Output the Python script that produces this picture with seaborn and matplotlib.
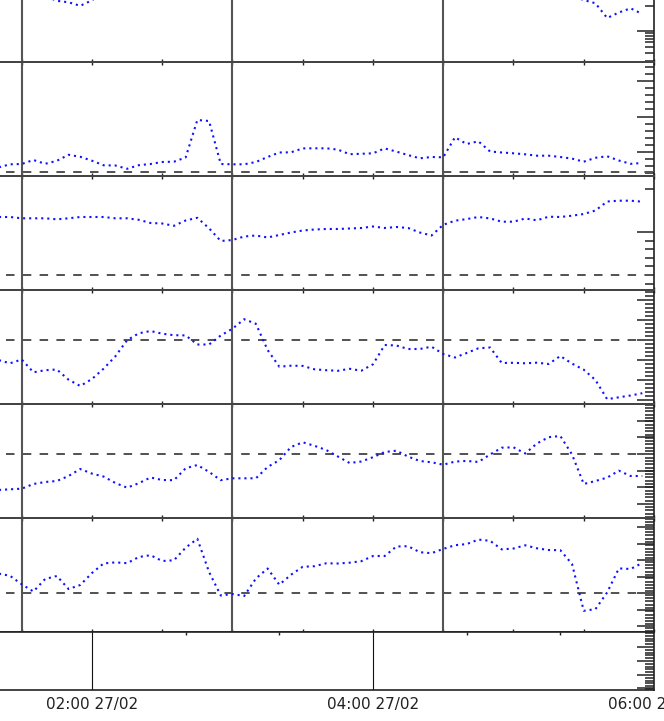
import numpy as np
import matplotlib
matplotlib.use("Agg")
import matplotlib.pyplot as plt
import seaborn as sns
from matplotlib.ticker import FixedLocator, NullFormatter

sns.set_theme(style="white")
plt.rcParams['font.family'] = ['DejaVu Sans']

# minutes after 00:00 on 27/02, one sample every 5 minutes (01:20 .. 05:55)
minutes = np.arange(80, 356, 5)

# each trace is measured relative to its dashed reference level
trace_1 = [82, 82, 80, 72, 66, 61.2, 59.7, 56.2, 61.7, 70,
           78, 84, 88, 90, 87, 91, 95, 92, 89, 94,
           97, 93, 90, 88, 92, 96, 99, 95, 91, 89,
           93, 90, 86, 84, 88, 85, 82, 80, 84, 86,
           83, 80, 78, 79, 76, 75, 73, 71, 69, 66,
           62, 58.7, 44, 49.5, 53.7, 48]
trace_2 = [4.5, 7.7, 8, 12, 8.2, 11.2, 17.2, 15.2, 11.3, 6.7,
           6.5, 3.2, 6.8, 8, 10, 10.3, 14.5, 52, 51, 8,
           7.7, 7.7, 10, 15, 19.5, 19.7, 23.6, 23.7, 23.7, 22.4,
           17.8, 18.2, 18.7, 23.6, 20.4, 16.9, 13.7, 15, 14.7, 34.7,
           28, 30.7, 20.5, 19.5, 18.7, 17.7, 16.3, 16.3, 15, 13.4,
           10.3, 14.2, 15.7, 11.5, 8.2, 9]
trace_3 = [58, 58, 56.7, 56.7, 56.7, 55.7, 56.7, 58, 58, 58,
           56.7, 56.7, 55.2, 52, 51.5, 49.2, 54.5, 57.2, 46.7, 34,
           35, 38.5, 39.5, 37.5, 40, 42.5, 44.5, 45.5, 46, 46,
           46.5, 47, 48.5, 47, 48, 47, 42.5, 39.5, 50.2, 54.3,
           55.9, 58, 56.6, 53.3, 53.3, 56.5, 54.7, 58.3, 58, 59.3,
           61, 64.5, 73.5, 74.3, 74.3, 73.3]
trace_4 = [-20, -23.3, -19.5, -32.3, -30.2, -29.5, -39.7, -46, -39, -28.6,
           -16.3, -0.2, 6.7, 9, 6.3, 4.8, 4.6, -4.5, -4.5, 4.5,
           11.3, 20.8, 16.2, -10, -26.7, -25.7, -25.9, -29.3, -30.2, -30.8,
           -28.8, -30.7, -24.3, -5, -5.5, -9, -9, -6.7, -14, -17.5,
           -13, -8.3, -7.5, -23, -22.8, -23.3, -22.7, -24, -16, -23.6,
           -29.7, -40, -59.2, -57.3, -55.5, -53.2]
trace_5 = [-36, -35.3, -34.7, -30, -28, -27, -22, -15, -19.6, -22.6,
           -29, -33.7, -29.2, -23.5, -26, -26.2, -14.3, -11, -17.9, -26.2,
           -24.3, -24.3, -24.3, -13, -6.2, 7, 11.7, 8.2, 4, -2.5,
           -9, -7.5, -3.2, 2, 3.3, -2.6, -7, -8.3, -10.7, -7.6,
           -6.9, -8, -0.5, 6.3, 6.7, 0.5, 10.5, 16.8, 18, -0.5,
           -30, -27, -23.6, -16.7, -22, -22]
trace_6 = [19.5, 17.2, 8.7, 1.5, 14, 17, 4, 8, 20, 29.6,
           30.6, 29.8, 36, 37.8, 32, 32.7, 45.3, 54.2, 21, -2.5,
           -1, -3, 14.5, 24.5, 8.3, 18.3, 26.2, 26.8, 29.7, 29.5,
           30.3, 31.8, 37, 37, 46.5, 46.8, 40.8, 39.8, 44.1, 47.8,
           48.9, 53.4, 52.2, 43.6, 44.5, 47.7, 44.7, 43, 42.8, 29,
           -17.8, -16.1, 0.6, 24.6, 24, 30]

traces = [trace_1, trace_2, trace_3, trace_4, trace_5, trace_6]
show_ref = [False, True, True, True, True, True]

W, H = 664, 721
fig = plt.figure(figsize=(W / 100, H / 100), dpi=100)

# panel layout in pixels (top, bottom), the first one runs off the top
panel_px = [(-52, 62), (62, 176), (176, 290), (290, 404), (404, 518), (518, 632)]
ylims = [(0, 114), (-4, 110), (-15, 99), (-64, 50), (-64, 50), (-39, 75)]
x_right = 654
t0, t1 = 80.73, 360

# right-hand y ticks (major, minor) for each panel
yticks = [
    ([31], [56, 29, 26, 23, 20, 15, 9, 1]),
    (list(20 + 35.5 * np.arange(0, 3)),
     [v for v in 20 + 7.1 * np.arange(-3, 13) if abs((v - 20) / 7.1 % 5) > 0.1]),
    ([43], [86] + list(43 - 8.6 * np.arange(1, 7))),
    (list(np.arange(-60, 50, 20)), list(np.arange(-64, 50, 4))),
    (list(16.6 * np.arange(-3, 3)), list(np.arange(-63, 50, 3.3))),
    (list(16.5 * np.arange(-2, 5)), list(np.arange(-38, 75, 3.3))),
]

grid_col = '#555555'
for i, (top, bot) in enumerate(panel_px):
    ax = fig.add_axes([0, (H - bot) / H, x_right / W, (bot - top) / H])
    ax.set_facecolor('white')
    ax.set_xlim(t0, t1)
    ax.set_ylim(*ylims[i])
    for t in (90, 180, 270):
        ax.axvline(t, color=grid_col, lw=1.5, zorder=1)
    if show_ref[i]:
        ax.axhline(0, color=grid_col, lw=1.44, zorder=1,
                   linestyle=(5.4, (4.25, 4.15)))
    sns.lineplot(x=minutes, y=traces[i], ax=ax, color='#1010ff', lw=1.5,
                 linestyle=(0, (1, 1.9)), errorbar=None, zorder=3)
    ax.spines['left'].set_visible(False)
    for s in ('top', 'bottom'):
        ax.spines[s].set_color('#444444')
        ax.spines[s].set_linewidth(1.44)
    ax.spines['right'].set_color('#222222')
    ax.spines['right'].set_linewidth(1.2)
    ax.xaxis.set_major_locator(FixedLocator(np.arange(90, 361, 30)))
    ax.xaxis.set_major_formatter(NullFormatter())
    ax.tick_params(axis='x', which='major', direction='in', top=True, bottom=True,
                   length=2.2, width=1.0, color='#222222')
    ax.yaxis.tick_right()
    ax.yaxis.set_major_locator(FixedLocator(yticks[i][0]))
    ax.yaxis.set_minor_locator(FixedLocator(yticks[i][1]))
    ax.yaxis.set_major_formatter(NullFormatter())
    ax.tick_params(axis='y', which='major', direction='in', length=12.2, width=1.1,
                   color='#222222', right=True, left=False)
    ax.tick_params(axis='y', which='minor', direction='in', length=6.5, width=1.1,
                   color='#222222', right=True, left=False)
    ax.set_xlabel('')
    ax.set_ylabel('')

# time axis panel
axt = fig.add_axes([0, (H - 690) / H, x_right / W, 58 / H])
axt.set_xlim(t0, t1)
axt.set_ylim(0, 58)
for t in (120, 240):
    axt.axvline(t, color='#111111', lw=0.8)
axt.spines['left'].set_visible(False)
for s in ('top', 'bottom', 'right'):
    axt.spines[s].set_color('#222222')
    axt.spines[s].set_linewidth(1.2)
major_t = [120, 240, 360]
axt.set_xticks(major_t)
axt.set_xticklabels(['%02d:%02d 27/02' % (t // 60, t % 60) for t in major_t],
                    fontsize=11, color='#222222')
axt.xaxis.set_minor_locator(FixedLocator([160, 200, 280, 320]))
axt.tick_params(axis='x', which='major', length=0, pad=5)
axt.tick_params(axis='x', which='minor', direction='in', top=True, bottom=False,
                length=2.5, width=1.0, color='#222222')
axt.yaxis.tick_right()
axt.yaxis.set_major_locator(FixedLocator([43, 29, 15, 2]))
axt.yaxis.set_minor_locator(FixedLocator(list(np.arange(1, 58, 2.8))))
axt.yaxis.set_major_formatter(NullFormatter())
axt.tick_params(axis='y', which='major', direction='in', length=12.2, width=1.1,
                color='#222222', right=True, left=False)
axt.tick_params(axis='y', which='minor', direction='in', length=6.5, width=1.1,
                color='#222222', right=True, left=False)

fig.savefig('out.png', dpi=100)
